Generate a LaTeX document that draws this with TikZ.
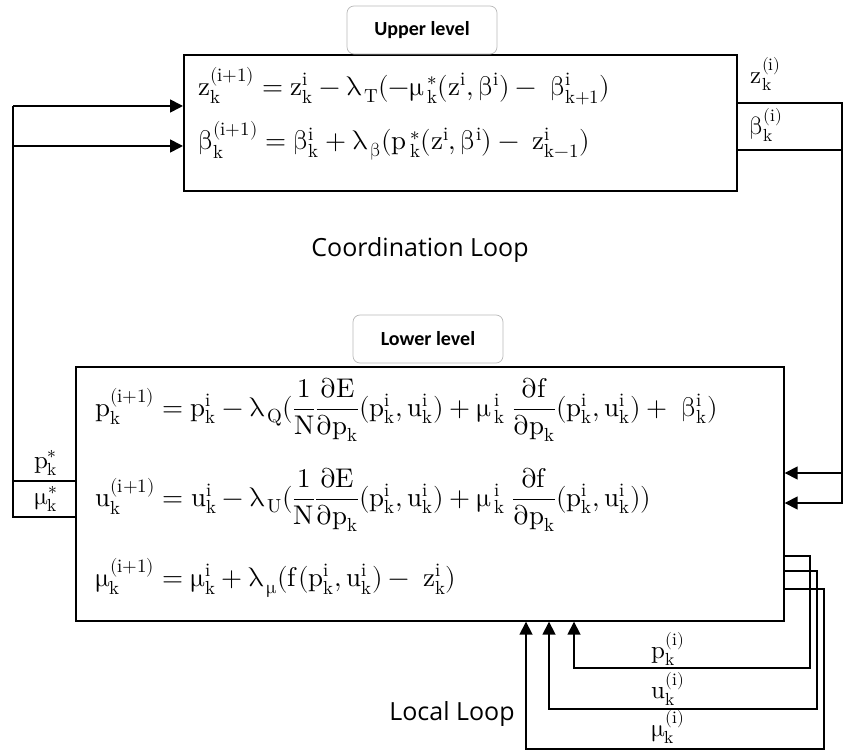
\documentclass[tikz,border=0pt]{standalone}
\usepackage{fontspec}
\usepackage[math-style=upright]{unicode-math}
\setmathfont{Latin Modern Math}
\newfontfamily\lblfont{Carlito}
\newfontfamily\loopfont{Open Sans}
\usetikzlibrary{arrows.meta}
\begin{document}
\begin{tikzpicture}[x=1pt,y=-1pt,
  mainbox/.style={draw, line width=1.7pt, inner sep=0pt, anchor=north west},
  lvl/.style={draw=gray!55, rounded corners=7pt, line width=0.7pt, fill=white,
    minimum width=150pt, minimum height=48pt, inner sep=0pt,
    font=\lblfont\bfseries\fontsize{20}{23}\selectfont},
  wire/.style={line width=1.7pt},
  arr/.style={wire, -{Triangle[length=13pt,width=13pt]}},
  eqn/.style={anchor=west, inner sep=0pt, font=\fontsize{27}{32}\selectfont},
  sig/.style={inner sep=0pt, font=\fontsize{25}{29}\selectfont},
  looplbl/.style={inner sep=0pt, font=\loopfont\fontsize{25}{30}\selectfont}]
\useasboundingbox (0,0) rectangle (845,751);

% boxes
\node[mainbox, minimum width=553pt, minimum height=136pt] (up) at (183,54) {};
\node[mainbox, minimum width=708pt, minimum height=254pt] (low) at (75,366) {};
\node[lvl] (uplvl) at (422,30) {Upper level};
\node[lvl] (lowlvl) at (428,339) {Lower level};

% equations
\node[eqn] (e1) at (198,86) {$z_k^{(i+1)} = z_k^i - λ_{\,T}(-μ_{\,k}^{\,*}(z^i,β^i) -\; β_{k+1}^i)$};
\node[eqn] (e2) at (198,141) {$β_k^{(i+1)} = β_k^i + λ_{\,β}(p_{\,k}^{\,*}(z^i,β^i) -\; z_{k-1}^i)$};
\node[eqn] (e3) at (95,410) {$\displaystyle p_k^{(i+1)} = p_k^i - λ_{\,Q}(\frac{1}{N}\frac{∂E}{∂p_k}(p_k^i,u_k^i) + μ_{\,k}^{\,i}\;\frac{∂f}{∂p_k}(p_k^i,u_k^i) +\; β_k^i)$};
\node[eqn] (e4) at (95,500) {$\displaystyle u_k^{(i+1)} = u_k^i - λ_{\,U}(\frac{1}{N}\frac{∂E}{∂p_k}(p_k^i,u_k^i) + μ_{\,k}^{\,i}\;\frac{∂f}{∂p_k}(p_k^i,u_k^i))$};
\node[eqn] (e5) at (95,578) {$μ_k^{(i+1)} = μ_k^i + λ_{\,μ}(f(p_k^i,u_k^i) -\; z_k^i)$};

% coordinates
\coordinate (lx1) at (13,106);
\coordinate (lx2) at (13,146);
\coordinate (rx1) at (842,473);
\coordinate (bA) at (810,668);
\coordinate (bB) at (817,709);
\coordinate (bC) at (824,749);

% left loop
\draw[wire] (low.west |- 0,517) -| (lx1);
\draw[wire] (low.west |- 0,481) -- (13,481);
\draw[arr] (lx1) -- (up.west |- lx1);
\draw[arr] (lx2) -- (up.west |- lx2);

% right loop
\draw[arr] (up.east |- 0,103) -| (rx1) -- (low.east |- rx1);
\draw[wire] (up.east |- 0,150) -- (842,150);
\draw[arr] (rx1) |- (low.east |- 0,503);

% local loop
\draw[arr] (low.east |- 0,556) -| (bA) -| (low.south -| 574,0);
\draw[arr] (low.east |- 0,571) -| (bB) -| (low.south -| 549,0);
\draw[arr] (low.east |- 0,589) -| (bC) -| (low.south -| 526,0);

% signal labels
\node[sig] (lz) at (766,74) {$z_k^{(i)}$};
\node[sig] (lb) at (766,125) {$β_k^{(i)}$};
\node[sig] (lps) at (46,463) {$p_k^{*}$};
\node[sig] (lms) at (46,499) {$μ_k^{*}$};
\node[sig] (lp) at (668,649) {$p_k^{(i)}$};
\node[sig] (lu) at (668,689) {$u_k^{(i)}$};
\node[sig] (lm) at (668,727) {$μ_k^{(i)}$};

\node[looplbl] (coord) at (420,250) {Coordination Loop};
\node[looplbl] (local) at (452,714) {Local Loop};
\end{tikzpicture}
\end{document}
